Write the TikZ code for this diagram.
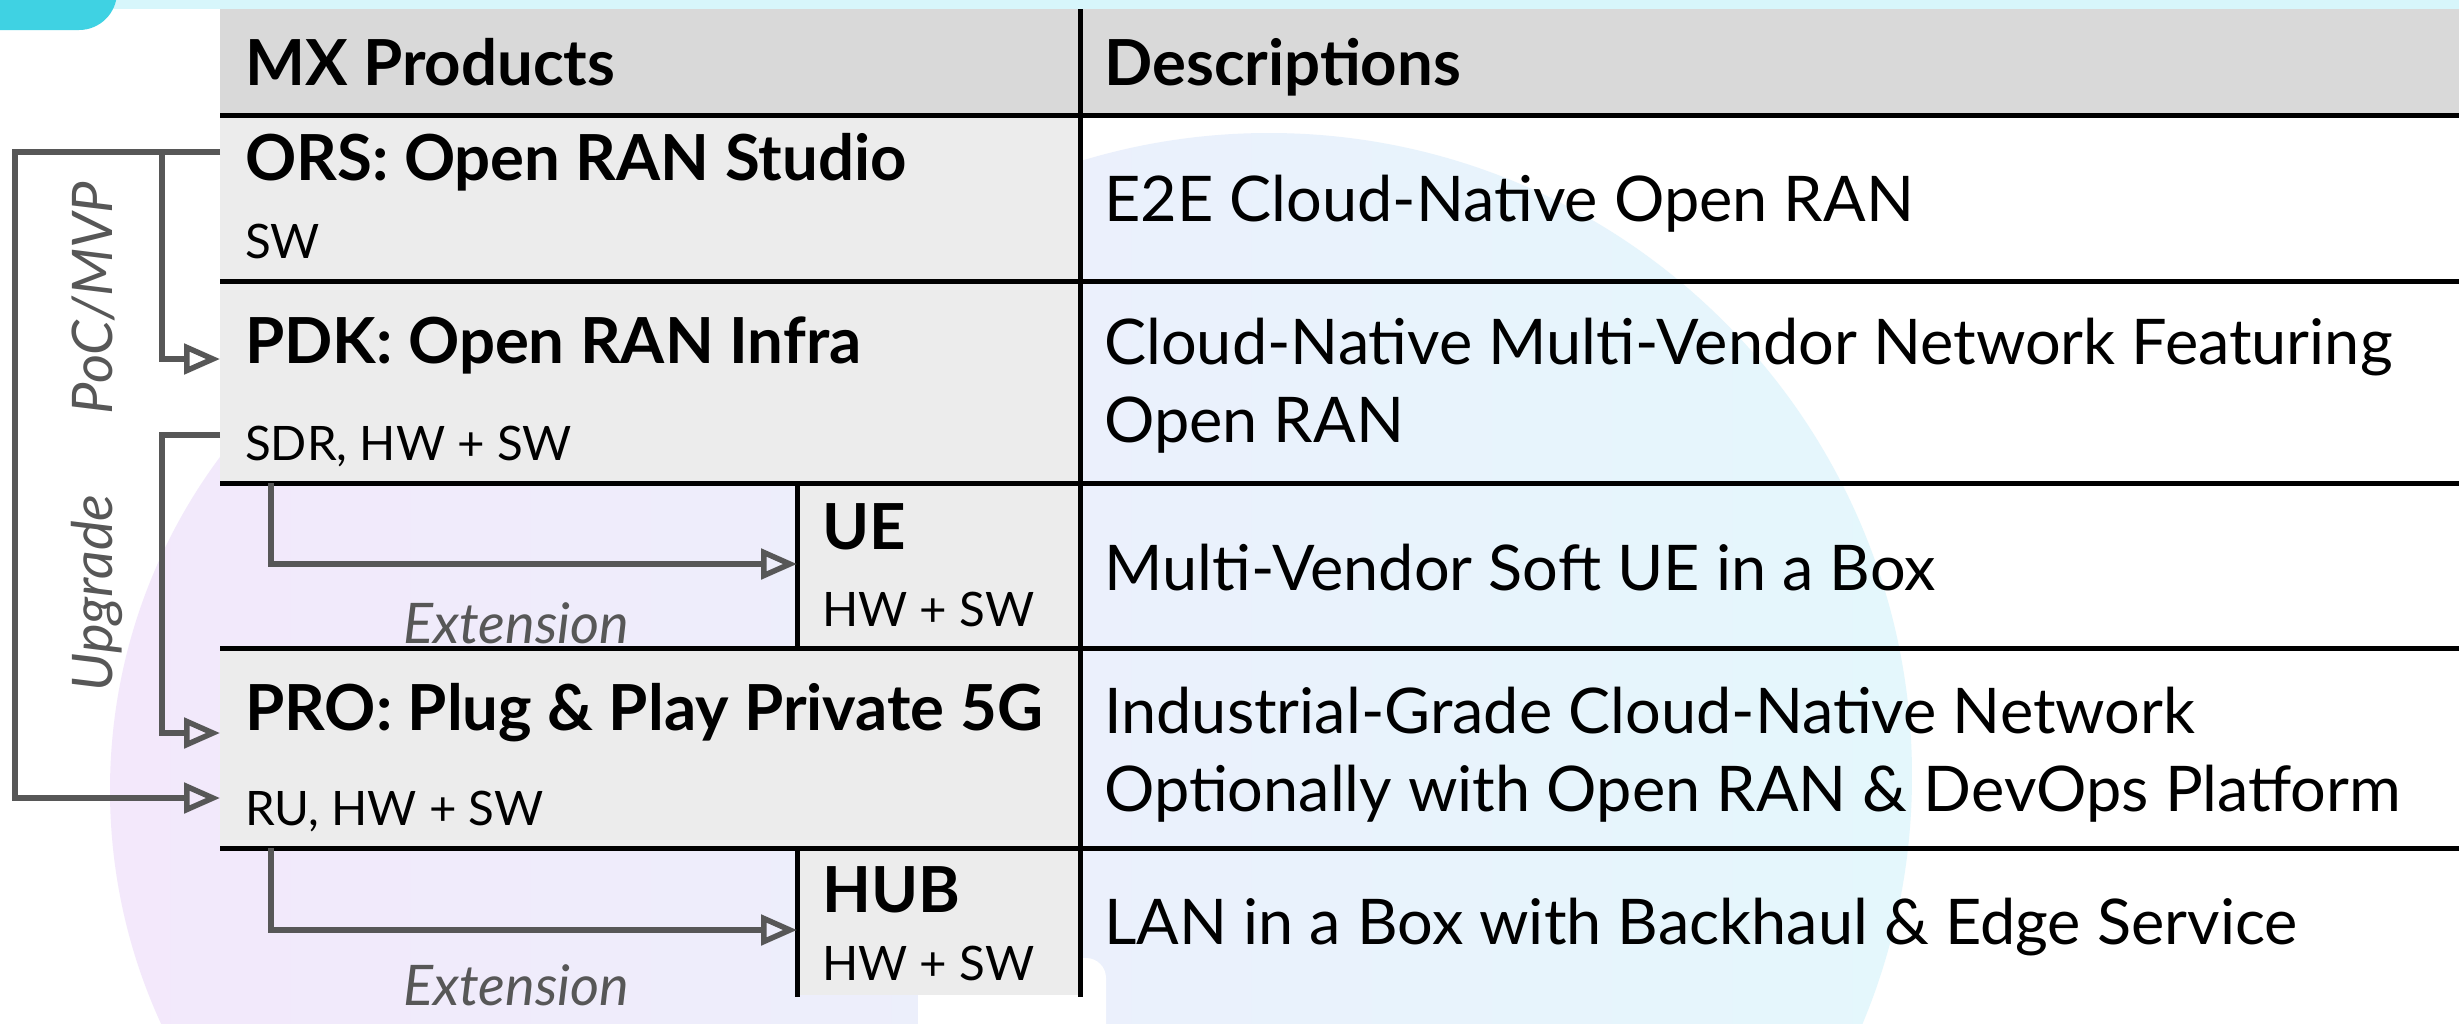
\documentclass[tikz,border=0pt]{standalone}
\usepackage{fontspec}
\setmainfont{Lato}
\usetikzlibrary{arrows.meta,positioning}
\definecolor{hdrgrey}{HTML}{D9D9D9}
\definecolor{cellgrey}{HTML}{ECECEC}
\definecolor{flowgrey}{HTML}{575757}
\definecolor{topcyan}{HTML}{3FD2E3}
\definecolor{bandcyan}{HTML}{D7F6FB}
\definecolor{lavender}{HTML}{F3E8FB}
\definecolor{mistblue}{HTML}{E9F0FC}
\definecolor{icecyan}{HTML}{E4F7FC}
\tikzset{
  title/.style = {anchor=base west, inner sep=0pt, font=\bfseries\fontsize{63.5}{70}\selectfont},
  spec/.style = {anchor=base west, inner sep=0pt, font=\fontsize{47.5}{56}\selectfont},
  desc/.style = {anchor=base west, inner sep=0pt, align=left, font=\fontsize{63}{78}\selectfont},
  note/.style = {inner sep=0pt, text=flowgrey, font=\itshape\fontsize{56}{60}\selectfont},
  rule/.style = {line width=5pt},
  flow/.style = {draw=flowgrey, line width=5.5pt, -{Triangle[open, length=36pt, width=30pt]}}
}

\begin{document}
\begin{tikzpicture}[x=1pt, y=-1pt]
  \useasboundingbox (0,0) rectangle (2459,1023);
  % background
  \fill[white] (0,0) rectangle (2459,1023);
  \shade[left color=lavender, middle color=mistblue, right color=icecyan]
    (669,790) circle[radius=559] (1269,776) circle[radius=643];
  \fill[white, rounded corners=20] (918,958) rectangle (1106,1080);
  \fill[bandcyan] (0,0) rectangle (2459,9);
  \fill[topcyan, rounded corners=38] (-60,-60) rectangle (117,30);

  % table cells
  \fill[hdrgrey] (220,9) rectangle (2459,115);
  \fill[cellgrey] (220,115) rectangle (1080,483);
  \fill[cellgrey] (797,483) rectangle (1080,648);
  \fill[cellgrey] (220,648) rectangle (1080,848);
  \fill[cellgrey] (797,848) rectangle (1080,995);
  \foreach \y in {115,281,483,648,848}
    \draw[rule] (220,\y) -- (2459,\y);
  \draw[rule] (1080,9) -- (1080,997);
  \draw[rule] (797,483) -- (797,648);
  \draw[rule] (797,848) -- (797,997);

  % products
  \node[title] (hprod) at (245,85) {MX Products};
  \node[title] (ors) at (245,180) {ORS: Open RAN Studio};
  \node[spec] (orssw) at (245,258) {SW};
  \node[title] (pdk) at (245,363) {PDK: Open RAN Infra};
  \node[spec] (pdksw) at (245,460) {SDR, HW + SW};
  \node[title] (ue) at (822,549) {UE};
  \node[spec] (uesw) at (822,626) {HW + SW};
  \node[title] (pro) at (245,730) {PRO: Plug \& Play Private 5G};
  \node[spec] (prosw) at (245,825) {RU, HW + SW};
  \node[title] (hub) at (822,912) {HUB};
  \node[spec] (hubsw) at (822,980) {HW + SW};

  % descriptions
  \node[title] (hdesc) at (1104,85) {Descriptions};
  \node[desc] (dors) at (1104,221) {E2E Cloud-Native Open RAN};
  \node[desc] (dpdk) at (1104,442) {Cloud-Native Multi-Vendor Network Featuring\\Open RAN};
  \node[desc] (due) at (1104,590) {Multi-Vendor Soft UE in a Box};
  \node[desc] (dpro) at (1104,811) {Industrial-Grade Cloud-Native Network\\Optionally with Open RAN \& DevOps Platform};
  \node[desc] (dhub) at (1104,944) {LAN in a Box with Backhaul \& Edge Service};

  % flow labels
  \node[note, anchor=base, rotate=90] (poc) at (112,298) {PoC/MVP};
  \node[note, anchor=base, rotate=90] (upg) at (112,593) {Upgrade};
  \node[note, anchor=base] (ext1) at (516,643) {Extension};
  \node[note, anchor=base] (ext2) at (516,1005) {Extension};

  % flow ends
  \coordinate (orsL) at (220,152);
  \coordinate (pdkL) at (220,359);
  \coordinate (sdrL) at (220,435);
  \coordinate (proL) at (220,733);
  \coordinate (ruL) at (220,798);
  \coordinate (outer) at (15,0);
  \coordinate (inner) at (162,0);
  \coordinate (ueT) at (271,483);
  \coordinate (ueL) at (797,564);
  \coordinate (proB) at (271,848);
  \coordinate (hubL) at (797,930);

  \draw[flow] (orsL) -- (orsL -| outer) |- (ruL);
  \draw[flow] (orsL -| inner) |- (pdkL);
  \draw[flow] (sdrL) -- (sdrL -| inner) |- (proL);
  \draw[flow] (ueT) |- (ueL);
  \draw[flow] (proB) |- (hubL);
\end{tikzpicture}
\end{document}
